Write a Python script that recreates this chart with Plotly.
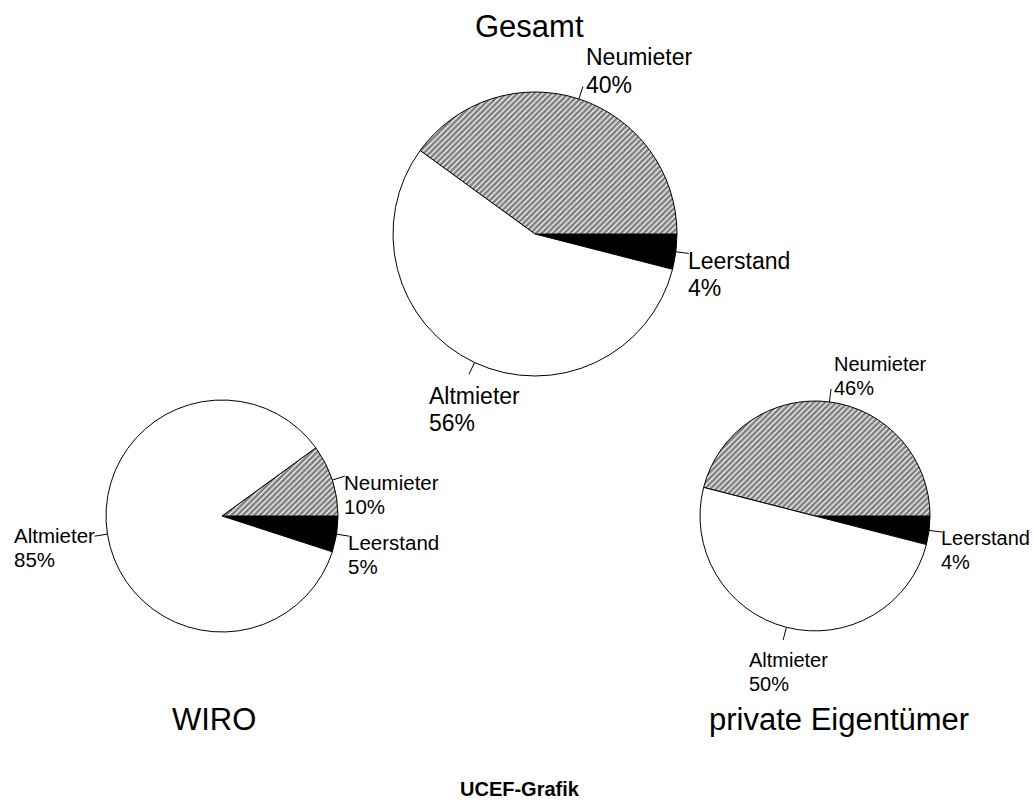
import math
import plotly.graph_objects as go

# ---- data ----
# order as drawn counterclockwise, starting just below 3 o'clock
categories = ["Leerstand", "Neumieter", "Altmieter"]
gesamt = [4, 40, 56]
wiro = [5, 10, 85]
privat = [4, 46, 50]
titles = ["Gesamt", "WIRO", "private Eigentümer"]
source = "UCEF-Grafik"

# ---- layout constants (pixels) ----
W, H = 1034, 802
FONT = "Liberation Sans, Arial, sans-serif"
# (values, title, cx, cy, r, label font size, title center x, title baseline)
pies = [
    (gesamt, titles[0], 535, 234, 142, 23, 529.5, 37),
    (wiro, titles[1], 222, 516, 116, 20.5, 214, 730),
    (privat, titles[2], 815, 516, 115, 20, 839, 730),
]
slice_colors = {"Leerstand": "black", "Neumieter": "white", "Altmieter": "white"}
slice_shapes = {"Leerstand": "", "Neumieter": "/", "Altmieter": ""}

# Arial / Liberation Sans advance widths (per 1000 em) for block alignment
CW = {"A": 667, "l": 222, "t": 278, "m": 833, "i": 222, "e": 556, "r": 333,
      "N": 722, "u": 556, "L": 556, "s": 500, "a": 556, "n": 556, "d": 556,
      "%": 889}


def text_w(txt, fs):
    return sum(CW.get(ch, 556) for ch in txt) / 1000.0 * fs


def px(x):
    return x / W


def py(y):
    return 1 - y / H


fig = go.Figure()
annotations = []
shapes = []


def add_text(text, x, baseline, fs, xanchor, bold=False):
    # center of the text box sits ~0.3465 fs above the baseline (Liberation Sans)
    annotations.append(dict(
        text=f"<b>{text}</b>" if bold else text,
        x=px(x), y=py(baseline - 0.3465 * fs), xref="paper", yref="paper",
        xanchor=xanchor, yanchor="middle", showarrow=False,
        font=dict(family=FONT, size=fs, color="black"),
    ))


for values, title, cx, cy, r, fs, tx, tb in pies:
    fig.add_trace(go.Pie(
        labels=categories, values=values, sort=False,
        direction="counterclockwise", rotation=90,
        textinfo="none", hoverinfo="label+percent",
        marker=dict(
            colors=[slice_colors[c] for c in categories],
            line=dict(color="black", width=1),
            pattern=dict(shape=[slice_shapes[c] for c in categories],
                         fgcolor="black", fillmode="overlay",
                         size=4, solidity=0.7),
        ),
        domain=dict(x=[px(cx - r), px(cx + r)], y=[py(cy + r), py(cy - r)]),
        showlegend=False,
    ))
    add_text(title, tx, tb, 31, "center")

    total = sum(values)
    # plotly (counterclockwise): first slice lies just clockwise of the start
    cum = -values[0] / total * 360.0
    L = 13
    spacing = 1.18 * fs
    cap = 0.716 * fs
    for name, v in zip(categories, values):
        ang = v / total * 360.0
        mid = cum + ang / 2
        cum += ang
        a = math.radians(mid)
        c, s = math.cos(a), math.sin(a)
        P = (cx + r * c, cy - r * s)
        E = (cx + (r + L) * c, cy - (r + L) * s)
        shapes.append(dict(type="line", xref="paper", yref="paper",
                           x0=px(P[0]), y0=py(P[1]), x1=px(E[0]), y1=py(E[1]),
                           line=dict(color="black", width=1)))
        pct = f"{round(v / total * 100)}%"
        bw = max(text_w(name, fs), text_w(pct, fs))
        if s > 0.7:          # top
            left = E[0] + 1
            b2 = E[1] + 6
            b1 = b2 - spacing
        elif s < -0.7:       # bottom
            left = E[0] + 3 - bw / 2
            b1 = E[1] + 13 + cap
            b2 = b1 + spacing
        elif c > 0:          # right
            left = E[0] - 3
            b1 = E[1] - 1 + cap
            b2 = b1 + spacing
        else:                # left
            left = E[0] - 2 - bw
            b1 = E[1] - 8 + cap
            b2 = b1 + spacing
        add_text(name, left, b1, fs, "left")
        add_text(pct, left, b2, fs, "left")

add_text(source, 520, 796, 20, "center", bold=True)

fig.update_layout(
    width=W, height=H,
    margin=dict(l=0, r=0, t=0, b=0),
    paper_bgcolor="white", plot_bgcolor="white",
    annotations=annotations, shapes=shapes,
    font=dict(family=FONT, color="black"),
)

fig.write_html(
    "out.html",
    config={"displayModeBar": False},
    post_script="document.body.style.margin='0';document.body.style.overflow='hidden';",
)
